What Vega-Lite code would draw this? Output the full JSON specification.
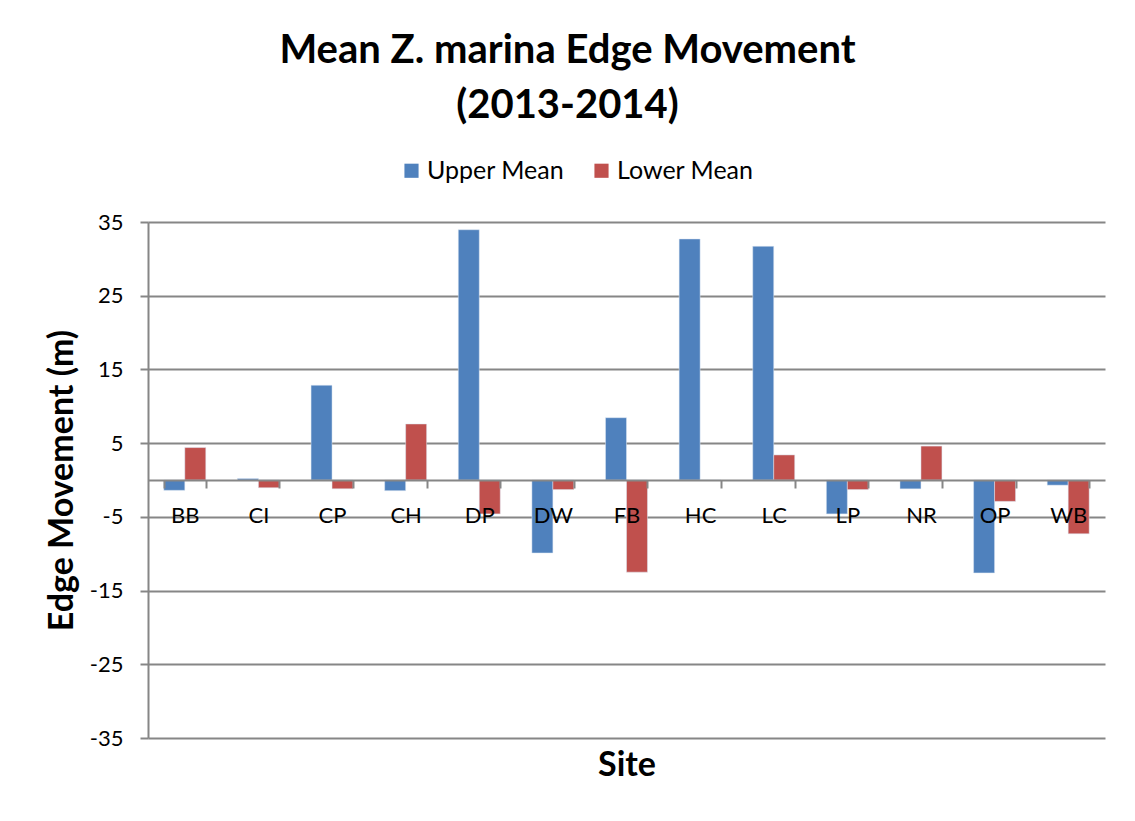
{
  "$schema": "https://vega.github.io/schema/vega-lite/v6.json",
  "width": 957,
  "height": 516,
  "autosize": {"type": "none"},
  "padding": {"left": 148, "top": 222, "right": 30, "bottom": 83},
  "background": "white",
  "title": {
    "text": ["Mean Z. marina Edge Movement", "(2013-2014)"],
    "fontSize": 40,
    "fontWeight": "bold",
    "lineHeight": 55,
    "color": "black",
    "anchor": "middle",
    "offset": 32,
    "dx": -59
  },
  "data": {
    "values": [
      {"site": "BB", "series": "Upper Mean", "value": -1.4},
      {"site": "BB", "series": "Lower Mean", "value": 4.4},
      {"site": "CI", "series": "Upper Mean", "value": 0.2},
      {"site": "CI", "series": "Lower Mean", "value": -1.05},
      {"site": "CP", "series": "Upper Mean", "value": 12.85},
      {"site": "CP", "series": "Lower Mean", "value": -1.2},
      {"site": "CH", "series": "Upper Mean", "value": -1.45},
      {"site": "CH", "series": "Lower Mean", "value": 7.6},
      {"site": "DP", "series": "Upper Mean", "value": 33.95},
      {"site": "DP", "series": "Lower Mean", "value": -4.6},
      {"site": "DW", "series": "Upper Mean", "value": -9.9},
      {"site": "DW", "series": "Lower Mean", "value": -1.3},
      {"site": "FB", "series": "Upper Mean", "value": 8.45},
      {"site": "FB", "series": "Lower Mean", "value": -12.5},
      {"site": "HC", "series": "Upper Mean", "value": 32.7},
      {"site": "HC", "series": "Lower Mean", "value": 0},
      {"site": "LC", "series": "Upper Mean", "value": 31.7},
      {"site": "LC", "series": "Lower Mean", "value": 3.4},
      {"site": "LP", "series": "Upper Mean", "value": -4.6},
      {"site": "LP", "series": "Lower Mean", "value": -1.3},
      {"site": "NR", "series": "Upper Mean", "value": -1.2},
      {"site": "NR", "series": "Lower Mean", "value": 4.6},
      {"site": "OP", "series": "Upper Mean", "value": -12.6},
      {"site": "OP", "series": "Lower Mean", "value": -2.9},
      {"site": "WB", "series": "Upper Mean", "value": -0.7},
      {"site": "WB", "series": "Lower Mean", "value": -7.3}
    ]
  },
  "mark": {"type": "bar", "stroke": "#DCE6F2", "strokeWidth": 0.5},
  "encoding": {
    "x": {
      "field": "site",
      "type": "nominal",
      "sort": null,
      "scale": {"paddingInner": 0.43, "paddingOuter": 0.215},
      "axis": {
        "orient": "bottom",
        "offset": -258,
        "zindex": 1,
        "title": "Site",
        "titleFontSize": 34,
        "titleFontWeight": "bold",
        "titleColor": "black",
        "titlePadding": 222,
        "labelFontSize": 22,
        "labelColor": "black",
        "labelAngle": 0,
        "labelPadding": 17,
        "tickBand": "extent",
        "tickSize": 8,
        "tickWidth": 2,
        "tickColor": "#868686",
        "domainColor": "#868686",
        "domainWidth": 2,
        "grid": false
      }
    },
    "xOffset": {"field": "series", "type": "nominal", "sort": ["Upper Mean", "Lower Mean"]},
    "y": {
      "field": "value",
      "type": "quantitative",
      "scale": {"domain": [-35, 35], "nice": false},
      "axis": {
        "values": [-35, -25, -15, -5, 5, 15, 25, 35],
        "labelExpr": "'' + datum.value",
        "grid": true,
        "gridColor": "#868686",
        "gridWidth": 2,
        "domainColor": "#868686",
        "domainWidth": 2,
        "tickSize": 8,
        "tickWidth": 2,
        "tickColor": "#868686",
        "labelFontSize": 22,
        "labelColor": "black",
        "labelPadding": 17,
        "title": "Edge Movement (m)",
        "titleFontSize": 34,
        "titleFontWeight": "bold",
        "titleColor": "black",
        "titlePadding": 10
      }
    },
    "color": {
      "field": "series",
      "type": "nominal",
      "scale": {"domain": ["Upper Mean", "Lower Mean"], "range": ["#4F81BD", "#C0504D"]},
      "legend": {
        "orient": "none",
        "legendX": 251,
        "legendY": -64,
        "direction": "horizontal",
        "title": null,
        "labelFontSize": 25,
        "labelColor": "black",
        "symbolType": "square",
        "symbolSize": 200,
        "symbolStrokeWidth": 0,
        "symbolOpacity": 1,
        "columnPadding": 24,
        "labelOffset": 3
      }
    }
  },
  "config": {"view": {"stroke": null}, "font": "Lato"}
}
